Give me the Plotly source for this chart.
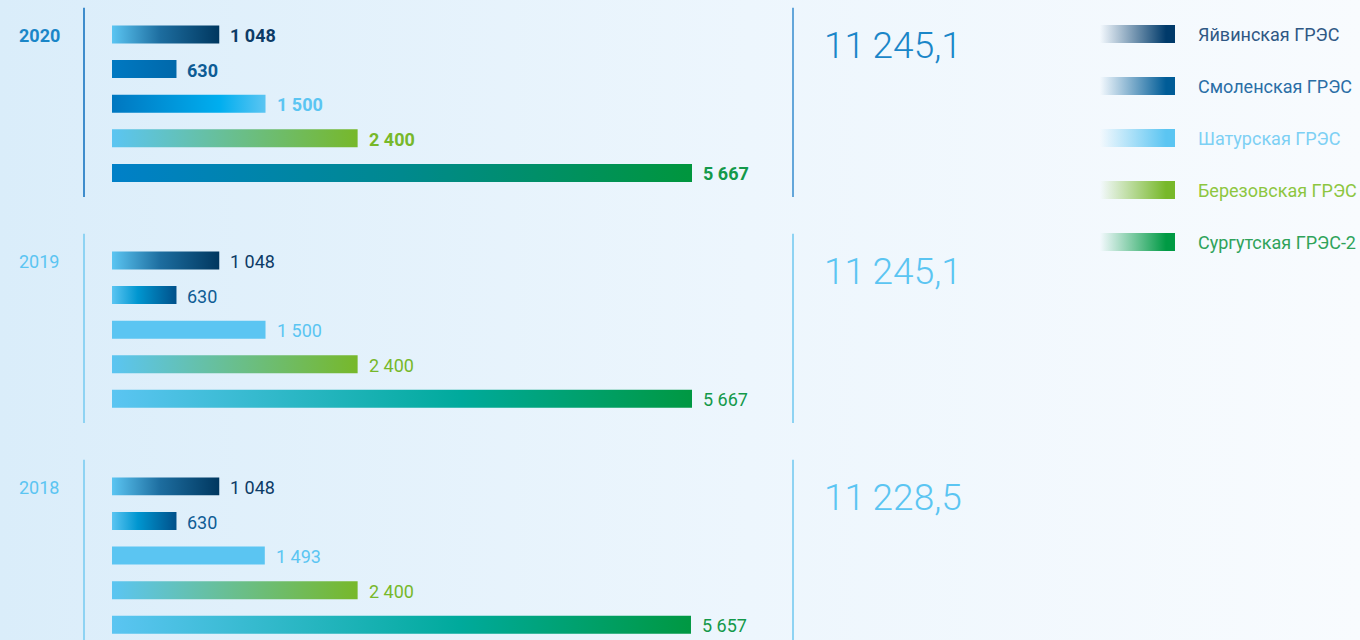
import plotly.graph_objects as go

# ---------------- data ----------------
years = ["2020", "2019", "2018"]
plants = ["Яйвинская ГРЭС", "Смоленская ГРЭС", "Шатурская ГРЭС",
          "Березовская ГРЭС", "Сургутская ГРЭС-2"]
values_2020 = [1048, 630, 1500, 2400, 5667]
values_2019 = [1048, 630, 1500, 2400, 5667]
values_2018 = [1048, 630, 1493, 2400, 5657]
totals = [11245.1, 11245.1, 11228.5]

# ---------------- styles ----------------
W, H = 1360, 640
FONT = "Roboto"
BASE_PX = 112          # pixel where value 0 sits
SCALE_PX = 580 / 5667  # pixels per unit
SLOT_PX = 34.6         # vertical pitch of bars
FIRST_PX = 34.5        # centre of first bar
GROUP_STEP = 6.53      # slots between groups
HALF = 0.26            # half bar height in slots

label_colors = ["#0D3B66", "#0E5C95", "#5BC5F2", "#77B82A", "#13994A"]
legend_text_colors = ["#2F5884", "#2A6EA6", "#7DD0F4", "#8DC63F", "#2FA35A"]
legend_swatch_colors = [(0, 58, 106), (0, 92, 151), (91, 197, 242), (119, 184, 42), (0, 154, 68)]

grad_current = [
    [[0, "#5BC5F2"], [0.45, "#1D6D9F"], [1, "#00375F"]],
    [[0, "#0079C2"], [1, "#0068AA"]],
    [[0, "#0077C0"], [0.7, "#00AEEF"], [1, "#5BC5F2"]],
    [[0, "#5BC5F2"], [1, "#77B82A"]],
    [[0, "#0080C8"], [0.5, "#00898E"], [1, "#00963D"]],
]
grad_past = [
    [[0, "#5BC5F2"], [0.45, "#1D6D9F"], [1, "#00375F"]],
    [[0, "#5BC5F2"], [0.4, "#0096D0"], [1, "#00508A"]],
    [[0, "#5BC5F2"], [1, "#5BC5F2"]],
    [[0, "#5BC5F2"], [1, "#77B82A"]],
    [[0, "#5BC5F2"], [0.6, "#00AA9C"], [1, "#009842"]],
]

fig = go.Figure()

# background gradient on pixel axis (x, y)
fig.add_trace(go.Scatter(
    x=[0, W, W, 0, 0], y=[0, 0, H, H, 0], mode="lines", fill="toself",
    line=dict(width=0, color="rgba(0,0,0,0)"),
    fillgradient=dict(type="horizontal",
                      colorscale=[[0, "#DAEDFA"], [0.55, "#EDF6FD"], [1, "#F8FBFE"]]),
    hoverinfo="skip", showlegend=False, xaxis="x", yaxis="y"))

# legend swatches (pixel axis)
for i, (name, rgb) in enumerate(zip(plants, legend_swatch_colors)):
    cy = 34 + 52 * i
    r, g, b = rgb
    fig.add_trace(go.Scatter(
        x=[1100, 1175, 1175, 1100, 1100], y=[cy - 9, cy - 9, cy + 9, cy + 9, cy - 9],
        mode="lines", fill="toself", line=dict(width=0, color="rgba(0,0,0,0)"),
        fillgradient=dict(type="horizontal",
                          colorscale=[[0, f"rgba({r},{g},{b},0)"], [0.88, f"rgba({r},{g},{b},1)"],
                                      [1, f"rgba({r},{g},{b},1)"]]),
        hoverinfo="skip", showlegend=False, xaxis="x", yaxis="y"))

annotations = []
shapes = []
for i, name in enumerate(plants):
    annotations.append(dict(
        x=1196, y=34 + 52 * i, xref="x", yref="y", xanchor="left", yanchor="middle",
        text=name, showarrow=False,
        font=dict(family=FONT, size=18, color=legend_text_colors[i])))


def fmt_int(v):
    return f"{v:,}".replace(",", " ")


def fmt_total(v):
    return f"{v:,.1f}".replace(",", "#").replace(".", ",").replace("#", "\u2009")


all_values = [values_2020, values_2019, values_2018]
for g, (year, vals) in enumerate(zip(years, all_values)):
    start = g * GROUP_STEP
    current = g == 0
    grads = grad_current if current else grad_past
    for i, v in enumerate(vals):
        s = start + i
        fig.add_trace(go.Scatter(
            x=[0, v, v, 0, 0], y=[s - HALF, s - HALF, s + HALF, s + HALF, s - HALF],
            mode="lines", fill="toself", line=dict(width=0, color="rgba(0,0,0,0)"),
            fillgradient=dict(type="horizontal", colorscale=grads[i]),
            hoverinfo="skip", showlegend=False, xaxis="x2", yaxis="y2"))
        annotations.append(dict(
            x=v, y=s + 0.03, xref="x2", yref="y2", xanchor="left", yanchor="middle",
            xshift=9, text=fmt_int(v), showarrow=False,
            font=dict(family=FONT, size=18, color=label_colors[i],
                      weight="bold" if current else "normal")))
    # year label
    annotations.append(dict(
        x=17 / W, y=start + 0.03, xref="paper", yref="y2", xanchor="left", yanchor="middle",
        text=year, showarrow=False,
        font=dict(family=FONT, size=18, color="#1A86C8" if current else "#5BC5F2",
                  weight="bold" if current else "normal")))
    # total
    annotations.append(dict(
        x=822 / W, y=start + 0.32, xref="paper", yref="y2", xanchor="left", yanchor="middle",
        text=fmt_total(totals[g]), showarrow=False,
        font=dict(family=FONT, size=37, color="#1A86C8" if current else "#5BC5F2", weight=300)))
    # separator lines
    for px, col in [(84, "#3F8DCC" if current else "#8ED3F3"),
                    (793, "#63A6DA" if current else "#8ED3F3")]:
        shapes.append(dict(
            type="line", xref="paper", yref="y2", x0=px / W, x1=px / W,
            y0=start - 0.77, y1=start + 4.7, line=dict(color=col, width=2)))

x2_range = [-BASE_PX / SCALE_PX, (W - BASE_PX) / SCALE_PX]
y2_range = [(H - FIRST_PX) / SLOT_PX, -FIRST_PX / SLOT_PX]

fig.update_layout(
    width=W, height=H, margin=dict(l=0, r=0, t=0, b=0),
    paper_bgcolor="#EAF5FD", plot_bgcolor="rgba(0,0,0,0)",
    showlegend=False, annotations=annotations, shapes=shapes,
    xaxis=dict(range=[0, W], domain=[0, 1], visible=False, fixedrange=True),
    yaxis=dict(range=[H, 0], domain=[0, 1], visible=False, fixedrange=True),
    xaxis2=dict(range=x2_range, overlaying="x", visible=False, fixedrange=True),
    yaxis2=dict(range=y2_range, overlaying="y", visible=False, fixedrange=True),
    font=dict(family=FONT),
)

fig.write_html("out.html",
               config={"displayModeBar": False},
               post_script="document.body.style.margin='0';document.body.style.overflow='hidden';")
